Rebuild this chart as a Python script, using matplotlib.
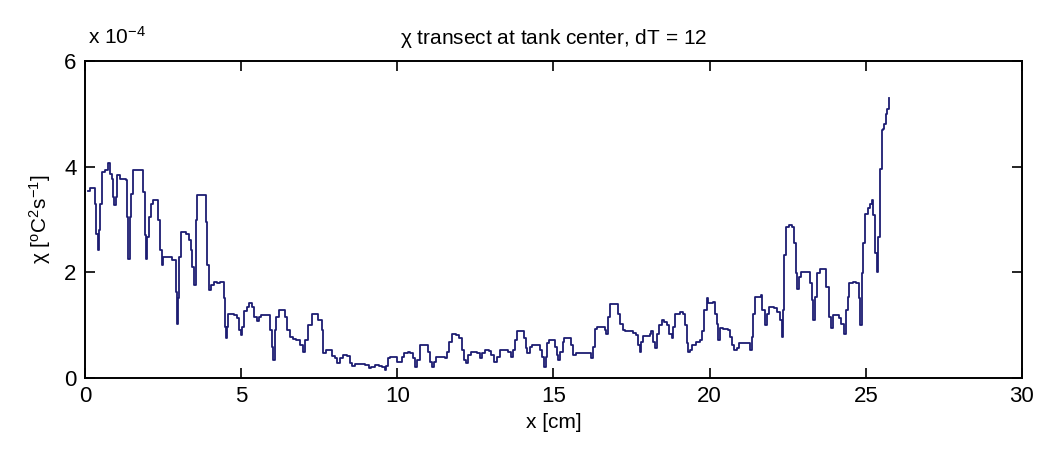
import matplotlib.pyplot as plt
import numpy as np

# chi transect across the tank (dT = 12), chi in units of 1e-4 degC^2/s
x_cm = [0.10, 0.17, 0.28, 0.31, 0.34, 0.41, 0.45, 0.49, 0.55, 0.63, 0.74, 0.79, 0.85, 0.90, 0.93,
        0.98, 1.03, 1.11, 1.28, 1.31, 1.35, 1.39, 1.43, 1.47, 1.52, 1.81, 1.87, 1.92, 1.95, 1.99,
        2.05, 2.11, 2.19, 2.29, 2.33, 2.40, 2.45, 2.51, 2.67, 2.78, 2.85, 2.90, 2.94, 2.98, 3.02,
        3.08, 3.24, 3.34, 3.39, 3.44, 3.49, 3.55, 3.60, 3.83, 3.88, 3.92, 3.97, 4.03, 4.12, 4.22,
        4.31, 4.38, 4.44, 4.47, 4.50, 4.54, 4.58, 4.68, 4.76, 4.85, 4.92, 4.98, 5.03, 5.09, 5.17,
        5.25, 5.33, 5.41, 5.49, 5.56, 5.65, 5.86, 5.92, 5.99, 6.03, 6.08, 6.13, 6.22, 6.32, 6.40,
        6.48, 6.56, 6.65, 6.77, 6.88, 6.99, 7.04, 7.13, 7.26, 7.40, 7.47, 7.58, 7.63, 7.71, 7.85,
        7.92, 8.01, 8.08, 8.15, 8.27, 8.40, 8.47, 8.54, 8.65, 8.81, 8.97, 9.08, 9.15, 9.29, 9.40,
        9.51, 9.59, 9.65, 9.70, 9.77, 9.94, 9.99, 10.08, 10.15, 10.20, 10.33, 10.42, 10.50, 10.58,
        10.63, 10.71, 10.74, 10.90, 10.98, 11.06, 11.11, 11.17, 11.25, 11.44, 11.54, 11.60, 11.65,
        11.74, 11.87, 11.97, 12.06, 12.13, 12.19, 12.26, 12.35, 12.48, 12.56, 12.65, 12.72, 12.81,
        12.93, 13.01, 13.10, 13.18, 13.28, 13.46, 13.55, 13.64, 13.71, 13.76, 13.82, 13.98, 14.06,
        14.12, 14.16, 14.25, 14.32, 14.49, 14.57, 14.62, 14.69, 14.75, 14.80, 14.86, 15.00, 15.05,
        15.10, 15.16, 15.21, 15.29, 15.35, 15.50, 15.57, 15.64, 15.72, 15.85, 16.02, 16.12, 16.21,
        16.26, 16.32, 16.39, 16.57, 16.64, 16.68, 16.74, 16.82, 16.98, 17.07, 17.14, 17.22, 17.28,
        17.44, 17.55, 17.65, 17.71, 17.76, 17.81, 17.87, 18.01, 18.08, 18.13, 18.19, 18.24, 18.30,
        18.37, 18.46, 18.54, 18.62, 18.69, 18.78, 18.83, 18.89, 19.05, 19.15, 19.21, 19.26, 19.31,
        19.37, 19.44, 19.55, 19.69, 19.76, 19.83, 19.90, 19.96, 20.04, 20.12, 20.17, 20.22, 20.28,
        20.33, 20.44, 20.60, 20.65, 20.71, 20.79, 20.87, 20.94, 21.05, 21.22, 21.30, 21.35, 21.40,
        21.46, 21.63, 21.68, 21.77, 21.84, 21.90, 22.06, 22.17, 22.24, 22.31, 22.35, 22.38, 22.46,
        22.54, 22.63, 22.70, 22.76, 22.81, 22.86, 22.94, 23.13, 23.21, 23.27, 23.31, 23.37, 23.45,
        23.53, 23.67, 23.74, 23.83, 23.88, 23.94, 24.04, 24.15, 24.22, 24.31, 24.36, 24.42, 24.47,
        24.58, 24.68, 24.77, 24.81, 24.88, 24.92, 24.97, 25.08, 25.14, 25.20, 25.24, 25.28, 25.31,
        25.35, 25.40, 25.46, 25.52, 25.56, 25.59, 25.65, 25.69, 25.73]

chi_1e4 = [3.54, 3.60, 3.60, 3.30, 2.73, 2.42, 2.80, 3.30, 3.90, 3.93, 4.06, 3.87, 3.77, 3.43, 3.27,
           3.43, 3.84, 3.77, 3.76, 3.74, 3.05, 2.26, 3.05, 3.49, 3.93, 3.93, 3.52, 2.70, 2.26, 2.67,
           3.05, 3.30, 3.36, 3.36, 2.99, 2.42, 2.14, 2.29, 2.29, 2.23, 2.23, 1.63, 1.03, 1.51, 2.29,
           2.77, 2.73, 2.61, 2.42, 2.10, 1.76, 2.99, 3.46, 3.46, 2.96, 2.14, 1.66, 1.76, 1.82, 1.79,
           1.82, 1.82, 1.51, 0.97, 0.75, 0.97, 1.22, 1.22, 1.19, 1.13, 0.91, 0.82, 0.97, 1.26, 1.35,
           1.41, 1.35, 1.16, 1.07, 1.15, 1.19, 1.19, 0.91, 0.59, 0.34, 0.91, 1.16, 1.28, 1.28, 1.16,
           0.91, 0.78, 0.73, 0.72, 0.63, 0.50, 0.72, 1.00, 1.22, 1.22, 1.10, 0.91, 0.47, 0.53, 0.53,
           0.41, 0.37, 0.28, 0.37, 0.44, 0.42, 0.28, 0.22, 0.26, 0.26, 0.25, 0.18, 0.21, 0.25, 0.23,
           0.21, 0.15, 0.23, 0.37, 0.40, 0.40, 0.31, 0.31, 0.40, 0.48, 0.50, 0.48, 0.37, 0.21,
           0.34, 0.53, 0.62, 0.62, 0.50, 0.31, 0.21, 0.31, 0.40, 0.40, 0.37, 0.50, 0.69,
           0.84, 0.81, 0.75, 0.53, 0.34, 0.28, 0.44, 0.50, 0.50, 0.47, 0.37, 0.47, 0.53,
           0.52, 0.44, 0.31, 0.40, 0.53, 0.53, 0.50, 0.40, 0.53, 0.72, 0.88, 0.88, 0.75,
           0.56, 0.47, 0.59, 0.62, 0.62, 0.53, 0.40, 0.21, 0.40, 0.66, 0.71, 0.71, 0.59,
           0.44, 0.34, 0.50, 0.69, 0.75, 0.75, 0.62, 0.44, 0.48, 0.48, 0.48, 0.47, 0.37,
           0.59, 0.92, 0.97, 0.97, 0.91, 0.84, 1.16, 1.40, 1.40, 1.22, 1.03, 0.91, 0.88,
           0.88, 0.86, 0.81, 0.62, 0.50, 0.69, 0.79, 0.79, 0.84, 0.88, 0.69, 0.56, 0.84,
           1.00, 1.10, 1.06, 1.00, 0.84, 0.75, 0.97, 1.22, 1.24, 1.22, 1.00, 0.66, 0.50,
           0.53, 0.62, 0.69, 0.72, 0.88, 1.29, 1.51, 1.41, 1.41, 1.44, 1.22, 1.03, 0.72,
           0.94, 0.92, 0.91, 0.78, 0.62, 0.53, 0.56, 0.66, 0.67, 0.67, 0.53, 0.78, 1.22,
           1.54, 1.57, 1.28, 1.00, 1.22, 1.35, 1.32, 1.25, 1.10, 0.78, 1.28, 2.32, 2.86,
           2.89, 2.86, 2.55, 1.98, 1.69, 1.91, 2.01, 2.01, 1.79, 1.47, 1.10, 1.54, 1.98,
           2.06, 2.06, 1.72, 1.16, 0.94, 1.19, 1.19, 1.13, 1.03, 0.84, 1.28, 1.54, 1.79,
           1.82, 1.79, 1.51, 1.00, 1.98, 2.55, 3.11, 3.21, 3.30, 3.36, 3.08, 2.61, 2.36,
           2.01, 2.67, 3.96, 4.69, 4.72, 4.81, 5.00, 5.10, 5.29]

xticks = [0, 5, 10, 15, 20, 25, 30]
yticks = [0, 2, 4, 6]

plt.rcParams['font.family'] = ['Liberation Sans', 'DejaVu Sans']
plt.rcParams['mathtext.fontset'] = 'custom'
plt.rcParams['mathtext.rm'] = 'Liberation Sans'
plt.rcParams['mathtext.it'] = 'Liberation Sans'

fig = plt.figure(figsize=(10.41, 4.63), dpi=100)
ax = fig.add_axes([0.0817, 0.1836, 0.900, 0.6847])

ax.plot(x_cm, chi_1e4, color='#1c1c72', linewidth=1.3, drawstyle='steps-post')

ax.set_xlim(0, 30)
ax.set_ylim(0, 6)
ax.set_xticks(xticks)
ax.set_yticks(yticks)
ax.tick_params(direction='in', length=7, width=1.2, labelsize=16,
               top=True, right=True, pad=6)
for s in ax.spines.values():
    s.set_linewidth(1.4)

ax.set_title(r'$\chi$ transect at tank center, dT = 12', fontsize=15, pad=12)
ax.set_xlabel('x [cm]', fontsize=15, labelpad=4)
ax.set_ylabel(r'$\chi$ [$^{\mathrm{o}}$C$^2$s$^{-1}$]', fontsize=15, labelpad=8)
fig.text(0.0845, 0.905, r'x 10$^{-4}$', fontsize=15)

fig.savefig('out.png', dpi=100)
